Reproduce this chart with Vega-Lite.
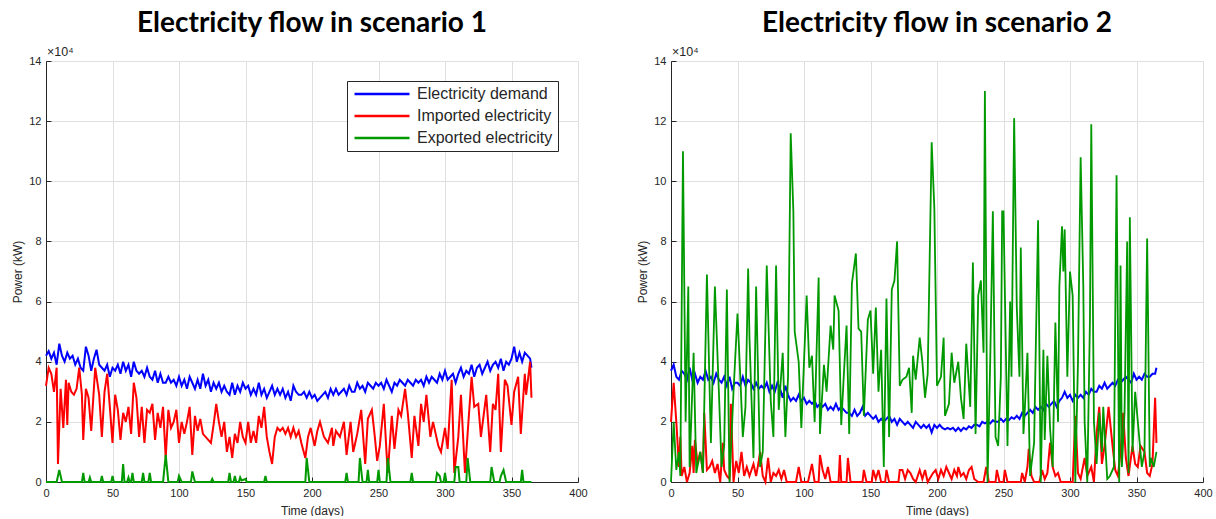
{
"$schema": "https://vega.github.io/schema/vega-lite/v6.json",
"padding": {"left": 11, "top": 10, "right": 5, "bottom": 0},
"spacing": 48,
"config": {
  "font": "Liberation Sans",
  "view": {"stroke": null},
  "axis": {"domainColor": "#262626", "domainWidth": 1, "gridColor": "#dfdfdf", "gridWidth": 1, "labelColor": "#262626", "labelFontSize": 11, "labelFont": "Liberation Sans", "titleFont": "Liberation Sans", "titleFontSize": 12, "titleFontWeight": "normal", "titleColor": "#262626", "tickColor": "#262626", "tickSize": -5, "labelPadding": 10, "labelFlush": false, "labelOverlap": false},
  "axisX": {"titlePadding": 7},
  "axisY": {"titlePadding": 4},
  "title": {"font": "Lato", "fontSize": 28, "fontWeight": "bold", "color": "#000000", "anchor": "middle", "offset": 8},
  "legend": {"strokeColor": "#262626", "fillColor": "#ffffff", "padding": 5, "labelFont": "Liberation Sans", "labelFontSize": 16, "labelColor": "#262626", "symbolType": "M-5,0H5", "symbolSize": 121, "symbolStrokeWidth": 2.5, "symbolOffset": 22, "labelOffset": 27, "rowPadding": 6, "cornerRadius": 0}
},
"resolve": {"scale": {"color": "independent"}, "legend": {"color": "independent"}},
"datasets": {
"a1": [{"d":0,"v":4.2},{"d":2,"v":4.35},{"d":4,"v":4.1},{"d":6,"v":4.3},{"d":8,"v":3.9},{"d":10,"v":4.6},{"d":12,"v":4.2},{"d":14,"v":4.0},{"d":16,"v":4.3},{"d":18,"v":4.1},{"d":20,"v":4.2},{"d":22,"v":3.9},{"d":24,"v":4.1},{"d":26,"v":3.8},{"d":28,"v":3.7},{"d":30,"v":4.5},{"d":32,"v":4.2},{"d":34,"v":3.7},{"d":36,"v":4.1},{"d":38,"v":4.4},{"d":40,"v":3.9},{"d":42,"v":3.8},{"d":44,"v":3.7},{"d":46,"v":3.9},{"d":48,"v":3.5},{"d":50,"v":3.8},{"d":52,"v":3.7},{"d":54,"v":3.9},{"d":56,"v":3.6},{"d":58,"v":4.0},{"d":60,"v":3.7},{"d":62,"v":3.9},{"d":64,"v":3.5},{"d":66,"v":4.0},{"d":68,"v":3.7},{"d":70,"v":3.6},{"d":72,"v":3.7},{"d":74,"v":3.5},{"d":76,"v":3.8},{"d":78,"v":3.5},{"d":80,"v":3.4},{"d":82,"v":3.7},{"d":84,"v":3.3},{"d":86,"v":3.6},{"d":88,"v":3.3},{"d":90,"v":3.3},{"d":92,"v":3.5},{"d":94,"v":3.3},{"d":96,"v":3.4},{"d":98,"v":3.2},{"d":100,"v":3.5},{"d":102,"v":3.2},{"d":104,"v":3.4},{"d":106,"v":3.1},{"d":108,"v":3.5},{"d":110,"v":3.3},{"d":112,"v":3.1},{"d":114,"v":3.4},{"d":116,"v":3.1},{"d":118,"v":3.6},{"d":120,"v":3.2},{"d":122,"v":3.4},{"d":124,"v":3.0},{"d":126,"v":3.3},{"d":128,"v":3.1},{"d":130,"v":3.3},{"d":132,"v":3.0},{"d":134,"v":3.2},{"d":136,"v":3.0},{"d":138,"v":2.9},{"d":140,"v":3.3},{"d":142,"v":2.9},{"d":144,"v":3.2},{"d":146,"v":3.0},{"d":148,"v":3.3},{"d":150,"v":3.1},{"d":152,"v":3.2},{"d":154,"v":2.9},{"d":156,"v":3.1},{"d":158,"v":2.9},{"d":160,"v":3.3},{"d":162,"v":2.9},{"d":164,"v":3.1},{"d":166,"v":2.8},{"d":168,"v":3.0},{"d":170,"v":3.2},{"d":172,"v":2.9},{"d":174,"v":3.1},{"d":176,"v":2.9},{"d":178,"v":3.1},{"d":180,"v":2.8},{"d":182,"v":3.0},{"d":184,"v":2.7},{"d":186,"v":3.2},{"d":188,"v":3.0},{"d":190,"v":2.9},{"d":192,"v":2.9},{"d":194,"v":3.0},{"d":196,"v":2.8},{"d":198,"v":3.0},{"d":200,"v":2.8},{"d":202,"v":2.9},{"d":204,"v":2.7},{"d":206,"v":2.8},{"d":208,"v":2.9},{"d":210,"v":3.0},{"d":212,"v":2.8},{"d":214,"v":3.1},{"d":216,"v":2.9},{"d":218,"v":3.1},{"d":220,"v":2.9},{"d":222,"v":3.0},{"d":224,"v":3.1},{"d":226,"v":2.9},{"d":228,"v":3.2},{"d":230,"v":3.0},{"d":232,"v":3.0},{"d":234,"v":3.3},{"d":236,"v":3.1},{"d":238,"v":3.2},{"d":240,"v":3.0},{"d":242,"v":3.3},{"d":244,"v":3.2},{"d":246,"v":3.1},{"d":248,"v":3.3},{"d":250,"v":3.2},{"d":252,"v":3.3},{"d":254,"v":3.1},{"d":256,"v":3.4},{"d":258,"v":3.2},{"d":260,"v":3.0},{"d":262,"v":3.3},{"d":264,"v":3.2},{"d":266,"v":3.4},{"d":268,"v":3.3},{"d":270,"v":3.2},{"d":272,"v":3.4},{"d":274,"v":3.3},{"d":276,"v":3.2},{"d":278,"v":3.4},{"d":280,"v":3.3},{"d":282,"v":3.4},{"d":284,"v":3.2},{"d":286,"v":3.5},{"d":288,"v":3.3},{"d":290,"v":3.5},{"d":292,"v":3.4},{"d":294,"v":3.3},{"d":296,"v":3.6},{"d":298,"v":3.4},{"d":300,"v":3.7},{"d":302,"v":3.4},{"d":304,"v":3.5},{"d":306,"v":3.6},{"d":308,"v":3.3},{"d":310,"v":3.6},{"d":312,"v":3.8},{"d":314,"v":3.5},{"d":316,"v":3.7},{"d":318,"v":3.6},{"d":320,"v":3.9},{"d":322,"v":3.5},{"d":324,"v":3.8},{"d":326,"v":3.9},{"d":328,"v":3.6},{"d":330,"v":3.8},{"d":332,"v":4.0},{"d":334,"v":3.7},{"d":336,"v":3.9},{"d":338,"v":4.0},{"d":340,"v":3.8},{"d":342,"v":4.1},{"d":344,"v":3.7},{"d":346,"v":4.0},{"d":348,"v":3.9},{"d":350,"v":4.1},{"d":352,"v":4.5},{"d":354,"v":4.0},{"d":356,"v":4.3},{"d":358,"v":4.0},{"d":360,"v":4.3},{"d":362,"v":4.2},{"d":364,"v":4.1},{"d":365,"v":3.8}],
"b1": [{"d":0,"v":3.2},{"d":2,"v":3.8},{"d":4,"v":3.6},{"d":6,"v":3.0},{"d":8,"v":3.8},{"d":9,"v":0.6},{"d":11,"v":3.1},{"d":13,"v":1.8},{"d":15,"v":3.4},{"d":16,"v":1.9},{"d":17,"v":3.3},{"d":19,"v":3.0},{"d":21,"v":2.9},{"d":23,"v":3.1},{"d":25,"v":3.8},{"d":27,"v":2.9},{"d":28,"v":1.4},{"d":30,"v":3.1},{"d":32,"v":2.8},{"d":34,"v":1.7},{"d":36,"v":3.1},{"d":37,"v":3.8},{"d":40,"v":2.9},{"d":42,"v":1.5},{"d":44,"v":3.0},{"d":46,"v":3.6},{"d":48,"v":2.5},{"d":50,"v":1.3},{"d":52,"v":2.9},{"d":54,"v":2.4},{"d":56,"v":1.4},{"d":58,"v":2.3},{"d":60,"v":2.0},{"d":62,"v":2.5},{"d":64,"v":1.6},{"d":66,"v":3.3},{"d":68,"v":2.8},{"d":70,"v":1.5},{"d":72,"v":2.5},{"d":74,"v":1.3},{"d":76,"v":2.4},{"d":78,"v":2.3},{"d":80,"v":2.6},{"d":82,"v":1.4},{"d":84,"v":2.3},{"d":86,"v":1.8},{"d":88,"v":2.5},{"d":90,"v":0.8},{"d":92,"v":2.4},{"d":94,"v":1.8},{"d":96,"v":2.0},{"d":98,"v":2.4},{"d":100,"v":1.3},{"d":102,"v":2.0},{"d":104,"v":1.6},{"d":106,"v":2.0},{"d":108,"v":2.5},{"d":110,"v":0.9},{"d":112,"v":2.2},{"d":114,"v":1.7},{"d":116,"v":2.1},{"d":118,"v":1.6},{"d":120,"v":1.5},{"d":122,"v":1.4},{"d":124,"v":1.3},{"d":126,"v":1.9},{"d":128,"v":2.6},{"d":130,"v":2.0},{"d":132,"v":1.5},{"d":134,"v":2.0},{"d":136,"v":1.0},{"d":138,"v":1.5},{"d":140,"v":0.8},{"d":142,"v":1.6},{"d":144,"v":1.3},{"d":146,"v":2.0},{"d":148,"v":1.5},{"d":150,"v":1.3},{"d":152,"v":2.0},{"d":154,"v":1.3},{"d":156,"v":1.7},{"d":158,"v":1.3},{"d":160,"v":2.2},{"d":162,"v":1.8},{"d":164,"v":2.5},{"d":166,"v":1.5},{"d":168,"v":1.0},{"d":170,"v":0.6},{"d":172,"v":1.5},{"d":174,"v":1.8},{"d":176,"v":1.7},{"d":178,"v":1.8},{"d":180,"v":1.6},{"d":182,"v":1.8},{"d":184,"v":1.5},{"d":186,"v":1.8},{"d":188,"v":1.5},{"d":190,"v":1.7},{"d":192,"v":1.3},{"d":195,"v":0.8},{"d":197,"v":1.5},{"d":199,"v":1.8},{"d":202,"v":1.2},{"d":204,"v":1.7},{"d":206,"v":2.0},{"d":209,"v":1.5},{"d":212,"v":1.3},{"d":215,"v":1.8},{"d":216,"v":1.2},{"d":218,"v":1.7},{"d":221,"v":1.5},{"d":224,"v":2.0},{"d":226,"v":0.9},{"d":229,"v":2.0},{"d":231,"v":1.0},{"d":234,"v":1.6},{"d":237,"v":2.4},{"d":240,"v":0.6},{"d":242,"v":2.1},{"d":245,"v":2.4},{"d":247,"v":1.6},{"d":249,"v":0.7},{"d":251,"v":1.2},{"d":254,"v":2.6},{"d":256,"v":1.0},{"d":257,"v":0.3},{"d":260,"v":2.2},{"d":262,"v":1.1},{"d":265,"v":2.4},{"d":267,"v":2.2},{"d":270,"v":3.1},{"d":272,"v":2.3},{"d":275,"v":0.8},{"d":277,"v":2.2},{"d":280,"v":1.2},{"d":282,"v":2.6},{"d":284,"v":2.0},{"d":286,"v":2.9},{"d":289,"v":1.5},{"d":291,"v":2.0},{"d":293,"v":1.6},{"d":295,"v":1.2},{"d":297,"v":1.0},{"d":300,"v":1.8},{"d":302,"v":1.1},{"d":305,"v":3.4},{"d":307,"v":0.3},{"d":310,"v":1.5},{"d":312,"v":2.9},{"d":315,"v":0.3},{"d":317,"v":1.6},{"d":320,"v":3.5},{"d":322,"v":2.5},{"d":325,"v":2.6},{"d":327,"v":1.5},{"d":329,"v":2.2},{"d":331,"v":2.9},{"d":334,"v":1.0},{"d":336,"v":2.6},{"d":338,"v":2.4},{"d":340,"v":3.6},{"d":342,"v":1.0},{"d":345,"v":3.4},{"d":347,"v":3.2},{"d":350,"v":1.9},{"d":352,"v":3.0},{"d":355,"v":3.5},{"d":357,"v":1.6},{"d":360,"v":3.6},{"d":361,"v":2.9},{"d":364,"v":4.0},{"d":365,"v":2.8}],
"c1": [{"d":0,"v":0},{"d":8,"v":0},{"d":10,"v":0.4},{"d":12,"v":0},{"d":27,"v":0},{"d":28,"v":0.3},{"d":29,"v":0},{"d":32,"v":0},{"d":33,"v":0.15},{"d":34,"v":0},{"d":41,"v":0},{"d":42,"v":0.2},{"d":43,"v":0},{"d":49,"v":0},{"d":50,"v":0.2},{"d":51,"v":0},{"d":57,"v":0},{"d":58,"v":0.6},{"d":59,"v":0},{"d":61,"v":0},{"d":62,"v":0.15},{"d":63,"v":0},{"d":64,"v":0},{"d":65,"v":0.3},{"d":66,"v":0},{"d":72,"v":0},{"d":73,"v":0.3},{"d":74,"v":0},{"d":77,"v":0},{"d":78,"v":0.3},{"d":79,"v":0},{"d":88,"v":0},{"d":90,"v":0.9},{"d":92,"v":0},{"d":99,"v":0},{"d":100,"v":0.2},{"d":102,"v":0},{"d":109,"v":0},{"d":110,"v":0.35},{"d":112,"v":0},{"d":124,"v":0},{"d":125,"v":0.1},{"d":126,"v":0},{"d":137,"v":0},{"d":138,"v":0.3},{"d":139,"v":0},{"d":141,"v":0},{"d":142,"v":0.2},{"d":143,"v":0},{"d":145,"v":0},{"d":146,"v":0.15},{"d":147,"v":0.05},{"d":150,"v":0.1},{"d":151,"v":0},{"d":164,"v":0},{"d":165,"v":0.2},{"d":166,"v":0},{"d":195,"v":0},{"d":196,"v":0.8},{"d":198,"v":0},{"d":225,"v":0},{"d":226,"v":0.3},{"d":227,"v":0},{"d":235,"v":0},{"d":236,"v":0.8},{"d":238,"v":0},{"d":241,"v":0},{"d":242,"v":0.4},{"d":243,"v":0},{"d":249,"v":0},{"d":250,"v":0.4},{"d":251,"v":0},{"d":256,"v":0},{"d":257,"v":0.8},{"d":259,"v":0},{"d":274,"v":0},{"d":275,"v":0.3},{"d":276,"v":0},{"d":293,"v":0},{"d":294,"v":0.3},{"d":296,"v":0.2},{"d":297,"v":0},{"d":299,"v":0},{"d":300,"v":0.3},{"d":301,"v":0},{"d":307,"v":0},{"d":308,"v":0.5},{"d":310,"v":0.5},{"d":311,"v":0},{"d":316,"v":0},{"d":317,"v":0.8},{"d":319,"v":0},{"d":334,"v":0},{"d":335,"v":0.5},{"d":337,"v":0},{"d":341,"v":0},{"d":342,"v":0.2},{"d":344,"v":0.4},{"d":346,"v":0},{"d":357,"v":0},{"d":358,"v":0.4},{"d":359,"v":0},{"d":365,"v":0}],
"a2": [{"d":0,"v":3.7},{"d":2,"v":3.9},{"d":4,"v":3.5},{"d":6,"v":3.4},{"d":8,"v":3.7},{"d":10,"v":3.6},{"d":12,"v":3.4},{"d":14,"v":3.8},{"d":16,"v":3.4},{"d":18,"v":3.6},{"d":20,"v":3.3},{"d":22,"v":3.5},{"d":24,"v":3.4},{"d":26,"v":3.7},{"d":28,"v":3.4},{"d":30,"v":3.5},{"d":32,"v":3.3},{"d":34,"v":3.6},{"d":36,"v":3.4},{"d":38,"v":3.3},{"d":40,"v":3.5},{"d":42,"v":3.2},{"d":44,"v":3.5},{"d":46,"v":3.1},{"d":48,"v":3.3},{"d":50,"v":3.3},{"d":52,"v":3.2},{"d":54,"v":3.5},{"d":56,"v":3.2},{"d":58,"v":3.4},{"d":60,"v":3.3},{"d":62,"v":3.1},{"d":64,"v":3.3},{"d":66,"v":3.1},{"d":68,"v":3.2},{"d":70,"v":3.1},{"d":72,"v":3.3},{"d":74,"v":3.0},{"d":76,"v":3.2},{"d":78,"v":3.0},{"d":80,"v":3.3},{"d":82,"v":3.1},{"d":84,"v":2.8},{"d":86,"v":3.2},{"d":88,"v":2.9},{"d":90,"v":2.7},{"d":92,"v":2.8},{"d":94,"v":2.7},{"d":96,"v":2.9},{"d":98,"v":2.7},{"d":100,"v":2.8},{"d":102,"v":2.6},{"d":104,"v":2.7},{"d":106,"v":2.6},{"d":108,"v":2.7},{"d":110,"v":2.5},{"d":112,"v":2.6},{"d":114,"v":2.5},{"d":116,"v":2.6},{"d":118,"v":2.4},{"d":120,"v":2.5},{"d":122,"v":2.4},{"d":124,"v":2.6},{"d":126,"v":2.4},{"d":128,"v":2.5},{"d":130,"v":2.4},{"d":132,"v":2.3},{"d":134,"v":2.3},{"d":136,"v":2.2},{"d":138,"v":2.4},{"d":140,"v":2.2},{"d":142,"v":2.3},{"d":144,"v":2.5},{"d":146,"v":2.2},{"d":148,"v":2.3},{"d":150,"v":2.2},{"d":152,"v":2.1},{"d":154,"v":2.2},{"d":156,"v":2.0},{"d":158,"v":2.1},{"d":160,"v":2.0},{"d":162,"v":2.1},{"d":164,"v":2.2},{"d":166,"v":2.0},{"d":168,"v":2.1},{"d":170,"v":1.9},{"d":172,"v":2.1},{"d":174,"v":2.0},{"d":176,"v":1.9},{"d":178,"v":2.0},{"d":180,"v":1.9},{"d":182,"v":1.8},{"d":184,"v":2.0},{"d":186,"v":1.9},{"d":188,"v":1.8},{"d":190,"v":1.9},{"d":192,"v":1.8},{"d":194,"v":1.9},{"d":196,"v":1.65},{"d":198,"v":1.9},{"d":200,"v":1.8},{"d":202,"v":1.9},{"d":204,"v":1.8},{"d":206,"v":1.75},{"d":208,"v":1.8},{"d":210,"v":1.75},{"d":212,"v":1.8},{"d":214,"v":1.7},{"d":216,"v":1.8},{"d":218,"v":1.7},{"d":220,"v":1.8},{"d":222,"v":1.75},{"d":224,"v":1.85},{"d":226,"v":1.8},{"d":228,"v":1.9},{"d":230,"v":1.9},{"d":232,"v":1.85},{"d":234,"v":2.0},{"d":236,"v":1.95},{"d":238,"v":2.0},{"d":240,"v":1.95},{"d":242,"v":2.05},{"d":244,"v":2.0},{"d":246,"v":2.0},{"d":248,"v":2.1},{"d":250,"v":2.0},{"d":252,"v":2.1},{"d":254,"v":2.05},{"d":256,"v":2.15},{"d":258,"v":2.1},{"d":260,"v":2.2},{"d":262,"v":2.1},{"d":264,"v":2.3},{"d":266,"v":2.2},{"d":268,"v":2.3},{"d":270,"v":2.4},{"d":272,"v":2.3},{"d":274,"v":2.5},{"d":276,"v":2.4},{"d":278,"v":2.5},{"d":280,"v":2.4},{"d":282,"v":2.6},{"d":284,"v":2.5},{"d":286,"v":2.6},{"d":288,"v":2.7},{"d":290,"v":2.5},{"d":292,"v":2.7},{"d":294,"v":2.8},{"d":296,"v":3.0},{"d":298,"v":2.8},{"d":300,"v":2.9},{"d":302,"v":2.7},{"d":304,"v":2.9},{"d":306,"v":2.8},{"d":308,"v":2.9},{"d":310,"v":2.8},{"d":312,"v":3.0},{"d":314,"v":2.9},{"d":316,"v":3.1},{"d":318,"v":3.0},{"d":320,"v":3.0},{"d":322,"v":3.2},{"d":324,"v":3.1},{"d":326,"v":3.3},{"d":328,"v":3.1},{"d":330,"v":3.2},{"d":332,"v":3.3},{"d":334,"v":3.2},{"d":336,"v":3.4},{"d":338,"v":3.3},{"d":340,"v":3.4},{"d":342,"v":3.5},{"d":344,"v":3.4},{"d":346,"v":3.3},{"d":348,"v":3.6},{"d":350,"v":3.4},{"d":352,"v":3.5},{"d":354,"v":3.4},{"d":356,"v":3.6},{"d":358,"v":3.5},{"d":360,"v":3.5},{"d":362,"v":3.6},{"d":364,"v":3.6},{"d":365,"v":3.8}],
"b2": [{"d":0,"v":2.0},{"d":2,"v":3.3},{"d":4,"v":2.0},{"d":6,"v":0.5},{"d":7,"v":1.5},{"d":8,"v":0.2},{"d":10,"v":0.5},{"d":12,"v":0},{"d":14,"v":0.3},{"d":16,"v":1.2},{"d":17,"v":0.3},{"d":18,"v":1.4},{"d":20,"v":0.6},{"d":22,"v":1.0},{"d":24,"v":0.3},{"d":25,"v":2.3},{"d":27,"v":0.4},{"d":29,"v":0.5},{"d":31,"v":0.7},{"d":33,"v":0.3},{"d":35,"v":0.6},{"d":37,"v":0},{"d":39,"v":1.3},{"d":40,"v":0.4},{"d":42,"v":0.2},{"d":44,"v":0.1},{"d":45,"v":2.6},{"d":47,"v":0},{"d":49,"v":0.7},{"d":51,"v":0.3},{"d":53,"v":1.0},{"d":55,"v":0.2},{"d":57,"v":0.5},{"d":59,"v":0.2},{"d":62,"v":0.6},{"d":64,"v":0.2},{"d":66,"v":0.7},{"d":67,"v":1.0},{"d":69,"v":0.2},{"d":71,"v":0},{"d":73,"v":0.8},{"d":75,"v":0},{"d":77,"v":0.3},{"d":79,"v":0.2},{"d":81,"v":0.4},{"d":83,"v":0.1},{"d":85,"v":0.4},{"d":87,"v":0},{"d":94,"v":0},{"d":96,"v":0.5},{"d":98,"v":0},{"d":103,"v":0},{"d":104,"v":0.2},{"d":106,"v":0.6},{"d":108,"v":0},{"d":111,"v":0},{"d":112,"v":0.9},{"d":114,"v":0.4},{"d":116,"v":0.1},{"d":118,"v":0.5},{"d":120,"v":0},{"d":126,"v":0},{"d":127,"v":0.9},{"d":128,"v":0},{"d":132,"v":0},{"d":133,"v":0.8},{"d":135,"v":0},{"d":144,"v":0},{"d":145,"v":0.4},{"d":147,"v":0},{"d":151,"v":0},{"d":152,"v":0.4},{"d":154,"v":0.1},{"d":156,"v":0.4},{"d":158,"v":0},{"d":161,"v":0},{"d":162,"v":0.4},{"d":164,"v":0},{"d":171,"v":0},{"d":172,"v":0.4},{"d":174,"v":0.4},{"d":176,"v":0.1},{"d":178,"v":0.4},{"d":180,"v":0.3},{"d":182,"v":0.1},{"d":184,"v":0},{"d":187,"v":0.4},{"d":189,"v":0.1},{"d":191,"v":0.4},{"d":193,"v":0},{"d":197,"v":0.3},{"d":199,"v":0.4},{"d":201,"v":0.1},{"d":203,"v":0.4},{"d":205,"v":0.2},{"d":207,"v":0.5},{"d":209,"v":0.3},{"d":211,"v":0.1},{"d":213,"v":0.4},{"d":215,"v":0.2},{"d":216,"v":0.5},{"d":218,"v":0.2},{"d":220,"v":0.3},{"d":222,"v":0.1},{"d":224,"v":0.4},{"d":226,"v":0.5},{"d":228,"v":0.1},{"d":231,"v":0},{"d":235,"v":0},{"d":237,"v":0.5},{"d":239,"v":0},{"d":244,"v":0},{"d":245,"v":0.4},{"d":247,"v":0},{"d":250,"v":0},{"d":251,"v":0.4},{"d":253,"v":0},{"d":263,"v":0},{"d":264,"v":0.3},{"d":266,"v":0},{"d":268,"v":0.5},{"d":269,"v":1.1},{"d":271,"v":0.2},{"d":273,"v":0},{"d":277,"v":0},{"d":279,"v":0.4},{"d":281,"v":0.1},{"d":283,"v":0.3},{"d":285,"v":1.3},{"d":287,"v":0.5},{"d":289,"v":0.2},{"d":291,"v":0.3},{"d":293,"v":0},{"d":302,"v":0},{"d":304,"v":2.2},{"d":306,"v":0.3},{"d":308,"v":0.1},{"d":311,"v":0.8},{"d":313,"v":0.2},{"d":316,"v":0.5},{"d":318,"v":0},{"d":320,"v":1.6},{"d":322,"v":2.5},{"d":324,"v":0.6},{"d":326,"v":1.2},{"d":329,"v":2.5},{"d":332,"v":1.2},{"d":334,"v":0.4},{"d":336,"v":0.2},{"d":338,"v":1.0},{"d":340,"v":2.3},{"d":342,"v":0.8},{"d":344,"v":0.2},{"d":347,"v":1.2},{"d":349,"v":0.6},{"d":351,"v":0.5},{"d":353,"v":1.2},{"d":356,"v":1.0},{"d":358,"v":0.3},{"d":360,"v":0.2},{"d":362,"v":0.6},{"d":364,"v":2.8},{"d":365,"v":1.3}],
"c2": [{"d":0,"v":0},{"d":2,"v":2.0},{"d":4,"v":0.4},{"d":6,"v":1.0},{"d":7,"v":0.2},{"d":9,"v":11.0},{"d":11,"v":2.0},{"d":13,"v":6.5},{"d":14,"v":0.5},{"d":17,"v":4.3},{"d":19,"v":0.3},{"d":22,"v":1.0},{"d":24,"v":0.3},{"d":27,"v":6.9},{"d":30,"v":1.3},{"d":33,"v":6.5},{"d":36,"v":3.0},{"d":38,"v":0.5},{"d":40,"v":1.2},{"d":42,"v":6.4},{"d":44,"v":0},{"d":47,"v":3.0},{"d":50,"v":5.6},{"d":52,"v":3.6},{"d":54,"v":1.5},{"d":56,"v":2.5},{"d":58,"v":7.1},{"d":59,"v":4.8},{"d":62,"v":0.8},{"d":64,"v":6.5},{"d":67,"v":0.5},{"d":69,"v":1.0},{"d":72,"v":7.2},{"d":75,"v":2.7},{"d":77,"v":1.5},{"d":79,"v":7.2},{"d":81,"v":2.4},{"d":84,"v":4.3},{"d":86,"v":1.5},{"d":88,"v":3.5},{"d":90,"v":11.6},{"d":92,"v":9.0},{"d":93,"v":5.0},{"d":96,"v":4.0},{"d":98,"v":1.8},{"d":102,"v":6.2},{"d":104,"v":3.8},{"d":106,"v":4.2},{"d":108,"v":2.0},{"d":111,"v":6.8},{"d":112,"v":1.6},{"d":115,"v":3.9},{"d":117,"v":3.0},{"d":120,"v":5.2},{"d":122,"v":4.4},{"d":123,"v":6.2},{"d":126,"v":5.7},{"d":128,"v":1.9},{"d":130,"v":3.6},{"d":132,"v":5.2},{"d":134,"v":1.6},{"d":136,"v":6.6},{"d":139,"v":7.6},{"d":141,"v":5.1},{"d":143,"v":5.0},{"d":145,"v":2.2},{"d":148,"v":5.4},{"d":150,"v":5.7},{"d":152,"v":3.6},{"d":154,"v":5.8},{"d":156,"v":3.0},{"d":158,"v":4.4},{"d":160,"v":0.5},{"d":162,"v":6.1},{"d":164,"v":1.5},{"d":166,"v":6.4},{"d":168,"v":6.7},{"d":170,"v":8.0},{"d":172,"v":3.2},{"d":174,"v":3.4},{"d":177,"v":3.5},{"d":179,"v":3.8},{"d":181,"v":2.3},{"d":182,"v":4.2},{"d":184,"v":3.4},{"d":187,"v":4.8},{"d":189,"v":4.0},{"d":191,"v":2.8},{"d":193,"v":3.6},{"d":196,"v":11.3},{"d":198,"v":9.1},{"d":200,"v":3.2},{"d":203,"v":3.5},{"d":205,"v":4.8},{"d":206,"v":2.2},{"d":209,"v":2.6},{"d":211,"v":4.3},{"d":213,"v":3.3},{"d":216,"v":4.0},{"d":218,"v":2.8},{"d":220,"v":2.1},{"d":222,"v":4.6},{"d":225,"v":2.5},{"d":227,"v":7.3},{"d":229,"v":1.6},{"d":231,"v":6.2},{"d":233,"v":6.7},{"d":235,"v":4.3},{"d":236,"v":13.0},{"d":238,"v":0},{"d":240,"v":4.0},{"d":242,"v":9.0},{"d":244,"v":1.5},{"d":246,"v":1.2},{"d":248,"v":3.5},{"d":249,"v":9.0},{"d":250,"v":9.0},{"d":253,"v":1.2},{"d":255,"v":6.0},{"d":256,"v":3.5},{"d":258,"v":12.1},{"d":260,"v":5.8},{"d":262,"v":3.5},{"d":263,"v":7.8},{"d":265,"v":1.6},{"d":266,"v":2.4},{"d":268,"v":4.3},{"d":270,"v":0.2},{"d":273,"v":1.3},{"d":276,"v":8.7},{"d":278,"v":0},{"d":280,"v":4.4},{"d":281,"v":1.4},{"d":283,"v":4.2},{"d":285,"v":1.8},{"d":287,"v":0.5},{"d":289,"v":5.3},{"d":291,"v":2.0},{"d":292,"v":6.5},{"d":294,"v":8.5},{"d":295,"v":7.0},{"d":296,"v":8.4},{"d":298,"v":3.5},{"d":300,"v":7.0},{"d":302,"v":6.2},{"d":304,"v":0},{"d":306,"v":4.0},{"d":308,"v":10.8},{"d":310,"v":6.5},{"d":311,"v":2.0},{"d":313,"v":0},{"d":315,"v":5.4},{"d":316,"v":11.9},{"d":318,"v":2.0},{"d":320,"v":0.6},{"d":322,"v":2.3},{"d":324,"v":1.0},{"d":325,"v":2.5},{"d":328,"v":0.1},{"d":330,"v":0.2},{"d":333,"v":0.5},{"d":335,"v":10.2},{"d":337,"v":0},{"d":338,"v":7.2},{"d":339,"v":0.5},{"d":341,"v":2.3},{"d":343,"v":8.0},{"d":344,"v":0.3},{"d":345,"v":8.8},{"d":347,"v":1.0},{"d":349,"v":3.0},{"d":352,"v":1.5},{"d":354,"v":0.5},{"d":356,"v":1.0},{"d":358,"v":8.1},{"d":360,"v":0.5},{"d":361,"v":0.8},{"d":363,"v":0.5},{"d":365,"v":1.0}]
},
"hconcat": [
{
  "width": 532, "height": 421,
  "title": {"text": "Electricity flow in scenario 1"},
  "encoding": {
    "x": {"field": "d", "type": "quantitative", "scale": {"domain": [0, 400], "nice": false}, "axis": {"title": "Time (days)", "values": [0, 50, 100, 150, 200, 250, 300, 350, 400]}},
    "y": {"field": "v", "type": "quantitative", "scale": {"domain": [0, 14], "nice": false}, "axis": {"title": "Power (kW)", "values": [0, 2, 4, 6, 8, 10, 12, 14]}}
  },
  "layer": [
    {"data": {"name": "a1"}, "mark": {"type": "line", "strokeWidth": 2}, "encoding": {"color": {"datum": "Electricity demand", "type": "nominal", "scale": {"domain": ["Electricity demand", "Imported electricity", "Exported electricity"], "range": ["#0000ff", "#ff0000", "#009900"]}, "legend": {"orient": "top-right", "offset": 20, "title": null}}}},
    {"data": {"name": "b1"}, "mark": {"type": "line", "strokeWidth": 2}, "encoding": {"color": {"datum": "Imported electricity", "type": "nominal"}}},
    {"data": {"name": "c1"}, "mark": {"type": "line", "strokeWidth": 2}, "encoding": {"color": {"datum": "Exported electricity", "type": "nominal"}}},
    {"data": {"values": [{"label": "×10⁴", "px": 0, "py": 14}]}, "mark": {"type": "text", "align": "left", "baseline": "bottom", "dx": 1, "dy": -2, "fontSize": 12.5, "fill": "#262626"}, "encoding": {"x": {"field": "px", "type": "quantitative"}, "y": {"field": "py", "type": "quantitative"}, "text": {"field": "label"}}}
  ]
},
{
  "width": 532, "height": 421,
  "title": {"text": "Electricity flow in scenario 2"},
  "encoding": {
    "x": {"field": "d", "type": "quantitative", "scale": {"domain": [0, 400], "nice": false}, "axis": {"title": "Time (days)", "values": [0, 50, 100, 150, 200, 250, 300, 350, 400]}},
    "y": {"field": "v", "type": "quantitative", "scale": {"domain": [0, 14], "nice": false}, "axis": {"title": "Power (kW)", "values": [0, 2, 4, 6, 8, 10, 12, 14]}}
  },
  "layer": [
    {"data": {"name": "a2"}, "mark": {"type": "line", "strokeWidth": 2}, "encoding": {"color": {"datum": "Electricity demand", "type": "nominal", "scale": {"domain": ["Electricity demand", "Imported electricity", "Exported electricity"], "range": ["#0000ff", "#ff0000", "#009900"]}, "legend": null}}},
    {"data": {"name": "b2"}, "mark": {"type": "line", "strokeWidth": 2}, "encoding": {"color": {"datum": "Imported electricity", "type": "nominal", "legend": null}}},
    {"data": {"name": "c2"}, "mark": {"type": "line", "strokeWidth": 1.8}, "encoding": {"color": {"datum": "Exported electricity", "type": "nominal", "legend": null}}},
    {"data": {"values": [{"label": "×10⁴", "px": 0, "py": 14}]}, "mark": {"type": "text", "align": "left", "baseline": "bottom", "dx": 1, "dy": -2, "fontSize": 12.5, "fill": "#262626"}, "encoding": {"x": {"field": "px", "type": "quantitative"}, "y": {"field": "py", "type": "quantitative"}, "text": {"field": "label"}}}
  ]
}
]
}
